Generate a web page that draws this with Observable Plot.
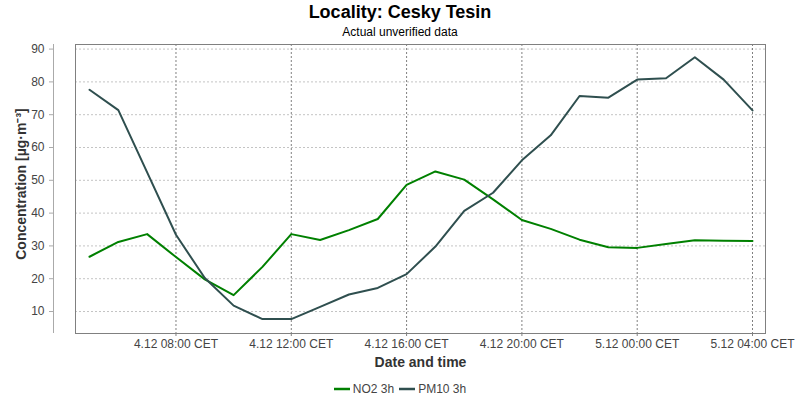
<!DOCTYPE html>
<html><head><meta charset="utf-8">
<script src="https://cdn.jsdelivr.net/npm/d3@7"></script>
<script src="https://cdn.jsdelivr.net/npm/@observablehq/plot@0.6"></script>
<style>
body{margin:0;background:#fff;width:800px;height:400px;overflow:hidden;font-family:"Liberation Sans",Arial,sans-serif;}
#title{height:24px;line-height:24px;text-align:center;font-weight:bold;font-size:18px;color:#000;}
#subtitle{height:16px;line-height:16px;text-align:center;font-size:12px;color:#000;}
#chart{height:330px;}
#legend{height:30px;box-sizing:border-box;padding-top:11px;line-height:16px;font-size:12px;color:#444;display:flex;justify-content:center;align-items:flex-start;}
#legend .item{display:flex;align-items:center;margin:0 2.5px;}
#legend svg{margin-right:3px;}
</style></head><body>
<div id="title"></div><div id="subtitle"></div><div id="chart"></div><div id="legend"></div>
<script>
const title = "Locality: Cesky Tesin";
const subtitle = "Actual unverified data";
const xLabel = "Date and time";
const yLabel = "Concentration [µg·m⁻³]";
const seriesNames = ["NO2 3h", "PM10 3h"];
const seriesColors = ["#008000", "#2f4f4f"];
const times = [
  "2023-12-04T05:00Z","2023-12-04T06:00Z","2023-12-04T07:00Z","2023-12-04T08:00Z",
  "2023-12-04T09:00Z","2023-12-04T10:00Z","2023-12-04T11:00Z","2023-12-04T12:00Z",
  "2023-12-04T13:00Z","2023-12-04T14:00Z","2023-12-04T15:00Z","2023-12-04T16:00Z",
  "2023-12-04T17:00Z","2023-12-04T18:00Z","2023-12-04T19:00Z","2023-12-04T20:00Z",
  "2023-12-04T21:00Z","2023-12-04T22:00Z","2023-12-04T23:00Z","2023-12-05T00:00Z",
  "2023-12-05T01:00Z","2023-12-05T02:00Z","2023-12-05T03:00Z","2023-12-05T04:00Z"
];
const no2 = [26.7, 31.2, 33.6, 26.6, 19.8, 15.0, 23.6, 33.6, 31.8, 34.8, 38.2, 48.6,
             52.7, 50.2, 44.2, 37.9, 35.2, 31.9, 29.6, 29.4, 30.6, 31.7, 31.6, 31.5];
const pm10 = [77.6, 71.4, 52.4, 33.4, 20.2, 11.8, 7.7, 7.7, 11.4, 15.2, 17.2, 21.4,
              29.8, 40.7, 46.2, 56.1, 63.7, 75.7, 75.2, 80.7, 81.1, 87.5, 80.7, 71.3];
const yTicks = [10, 20, 30, 40, 50, 60, 70, 80, 90];
const xTicks = ["2023-12-04T08:00Z","2023-12-04T12:00Z","2023-12-04T16:00Z",
                "2023-12-04T20:00Z","2023-12-05T00:00Z","2023-12-05T04:00Z"];

document.getElementById("title").textContent = title;
document.getElementById("subtitle").textContent = subtitle;

const dates = times.map(t => new Date(t));
const tickDates = xTicks.map(t => new Date(t));
const rows = [];
[no2, pm10].forEach((vals, s) => vals.forEach((v, i) => rows.push({time: dates[i], value: v, series: seriesNames[s]})));
const pad = n => String(n).padStart(2, "0");
const fmt = d => `${d.getUTCDate()}.${d.getUTCMonth() + 1} ${pad(d.getUTCHours())}:${pad(d.getUTCMinutes())} CET`;

const chart = Plot.plot({
  width: 800, height: 330,
  marginTop: 4, marginBottom: 37, marginLeft: 75, marginRight: 35,
  insetLeft: 14, insetRight: 13,
  x: {type: "utc", domain: [dates[0], dates[dates.length - 1]], label: null},
  y: {domain: [3.3, 91.4], label: null},
  color: {domain: seriesNames, range: seriesColors},
  style: {fontFamily: "'Liberation Sans', Arial, sans-serif", fontSize: "12px", background: "white", overflow: "visible"},
  marks: [
    Plot.gridY(yTicks, {stroke: "#c4c4c4", strokeOpacity: 1, strokeDasharray: "2,2"}),
    Plot.gridX(tickDates, {stroke: "#808080", strokeOpacity: 1, strokeDasharray: "2,2"}),
    Plot.frame({stroke: "#808080"}),
    Plot.ruleX([dates[0]], {dx: -36, stroke: "#aaaaaa"}),
    Plot.axisY(yTicks, {tickSize: 4, tickPadding: 5, dx: -22, stroke: "#aaaaaa", fill: "#444", label: null}),
    Plot.axisX(tickDates, {tickSize: 3, tickPadding: 3, tickFormat: fmt, stroke: "#808080", fill: "#444", label: null}),
    Plot.lineY(rows, {x: "time", y: "value", z: "series", stroke: "series", strokeWidth: 2}),
    Plot.text([yLabel], {frameAnchor: "left", dx: -54, dy: -5, rotate: -90, fontSize: 14, fontWeight: "bold", fill: "#333", lineAnchor: "middle", textAnchor: "middle"}),
    Plot.text([xLabel], {frameAnchor: "bottom", dy: 29, fontSize: 14, fontWeight: "bold", fill: "#333", lineAnchor: "middle"})
  ]
});
document.getElementById("chart").append(chart);

const legend = d3.select("#legend");
seriesNames.forEach((name, i) => {
  const item = legend.append("div").attr("class", "item");
  const sw = item.append("svg").attr("width", 16).attr("height", 10);
  sw.append("line").attr("x1", 0).attr("x2", 16).attr("y1", 5).attr("y2", 5)
    .attr("stroke", seriesColors[i]).attr("stroke-width", 2.5);
  item.append("span").text(name);
});
</script>
</body></html>
